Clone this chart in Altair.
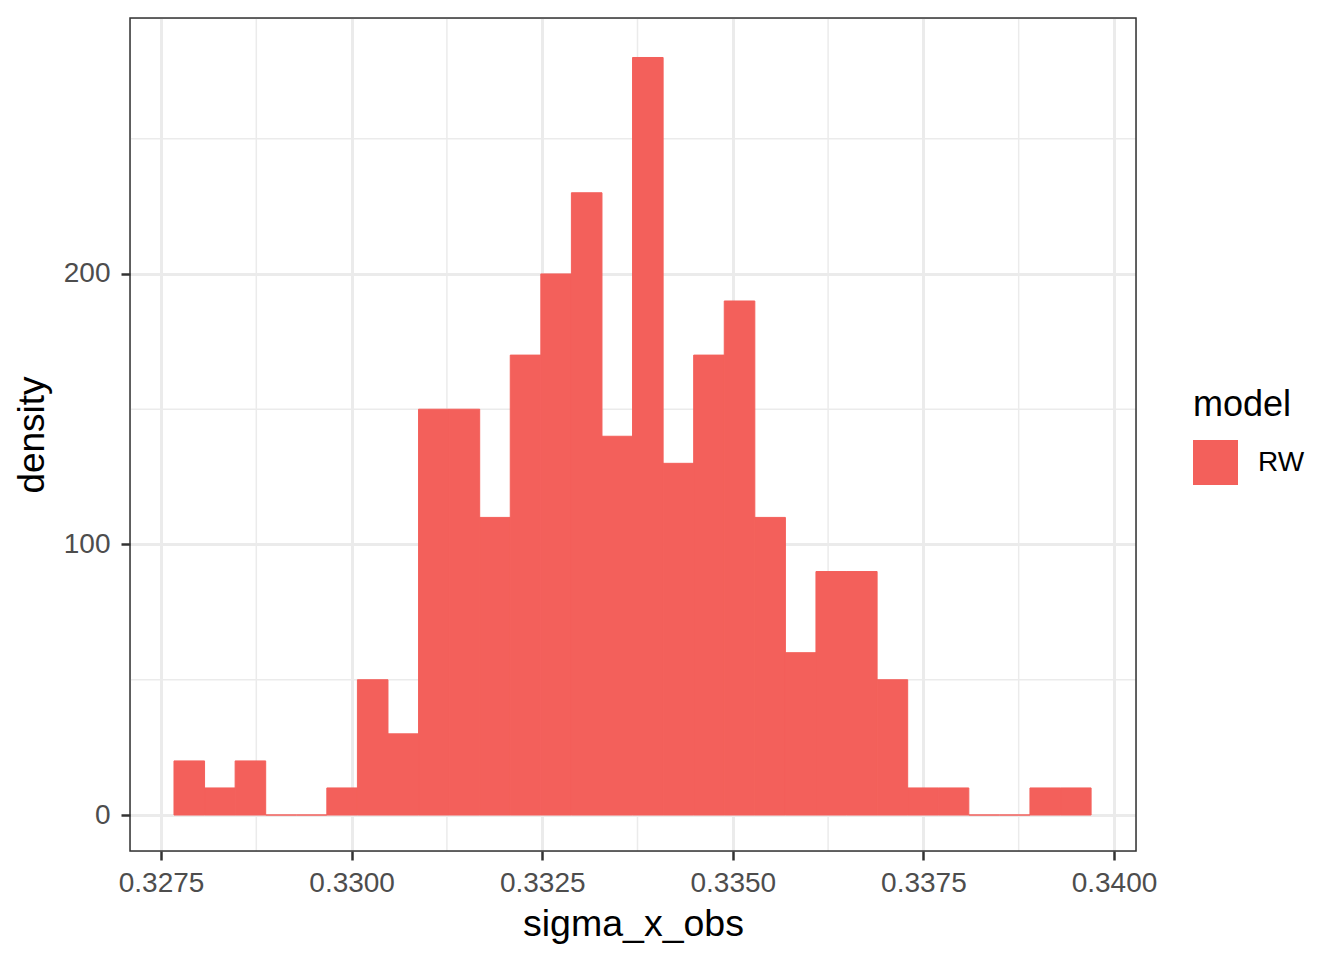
import altair as alt
import pandas as pd

# Histogram values
density = [20, 10, 20, 0, 0, 10, 50, 30, 150, 150, 110, 170, 200, 230, 140,
           280, 130, 170, 190, 110, 60, 90, 90, 50, 10, 10, 0, 0, 10, 10]
bin_start = 0.32767
bin_width = 0.000401
model = ["RW"] * len(density)

x_ticks = [0.3275, 0.3300, 0.3325, 0.3350, 0.3375, 0.3400]
x_minor = [0.32875, 0.33125, 0.33375, 0.33625, 0.33875]
y_ticks = [0, 100, 200]
y_minor = [50, 150, 250]

x_domain = [0.327093, 0.340289]
y_domain = [-13.3, 294.6]

lo = [bin_start + i * bin_width for i in range(len(density))]
df = pd.DataFrame({
    "lo": lo,
    "hi": [v + bin_width for v in lo],
    "density": density,
    "model": model,
})

FONT = "Liberation Sans"
xs = alt.Scale(domain=x_domain, nice=False, zero=False)
ys = alt.Scale(domain=y_domain, nice=False, zero=False)

minor_x = alt.Chart(pd.DataFrame({"v": x_minor})).mark_rule(
    color="#EBEBEB", strokeWidth=1.5
).encode(x=alt.X("v:Q", scale=xs))
minor_y = alt.Chart(pd.DataFrame({"v": y_minor})).mark_rule(
    color="#EBEBEB", strokeWidth=1.5
).encode(y=alt.Y("v:Q", scale=ys))

bars = alt.Chart(df).mark_rect(strokeWidth=1, strokeOpacity=1).encode(
    x=alt.X(
        "lo:Q", scale=xs,
        axis=alt.Axis(
            values=x_ticks, format=".4f", title="sigma_x_obs",
            grid=True, gridColor="#EBEBEB", gridWidth=3,
            domain=False, tickColor="#333333", tickWidth=2.5, tickSize=9,
            labelColor="#4D4D4D", labelFontSize=28, labelFont=FONT,
            labelPadding=9, titleFont=FONT, titleFontSize=37.5,
            titleFontWeight="normal", titleColor="black", titlePadding=8,
        ),
    ),
    x2="hi:Q",
    y=alt.Y(
        "density:Q", scale=ys,
        axis=alt.Axis(
            values=y_ticks, title="density",
            grid=True, gridColor="#EBEBEB", gridWidth=3,
            domain=False, tickColor="#333333", tickWidth=2.5, tickSize=9,
            labelColor="#4D4D4D", labelFontSize=28, labelFont=FONT,
            labelPadding=11, titleFont=FONT, titleFontSize=37,
            titleFontWeight="normal", titleColor="black", titlePadding=12,
        ),
    ),
    y2=alt.datum(0),
    color=alt.Color(
        "model:N",
        scale=alt.Scale(domain=["RW"], range=["#F3605B"]),
        legend=alt.Legend(
            title="model", orient="none", legendX=1063, legendY=370,
            titleFont=FONT, titleFontSize=36, titleFontWeight="normal",
            titleColor="black", titlePadding=16,
            labelFont=FONT, labelFontSize=28, labelColor="black",
            labelOffset=20, symbolType="square", symbolSize=2025,
            symbolStrokeWidth=0, symbolOpacity=1,
        ),
    ),
    stroke=alt.Stroke("model:N", scale=alt.Scale(domain=["RW"], range=["#F3605B"]), legend=None),
)

border = alt.Chart(pd.DataFrame({"k": [0]})).mark_rect(
    fill=None, stroke="#333333", strokeWidth=1.5
).encode(
    x=alt.value(0), x2=alt.value(1006), y=alt.value(0), y2=alt.value(833)
)

chart = alt.layer(minor_x, minor_y, bars, border).properties(
    width=1006, height=833,
    padding={"left": 122, "top": 10, "right": 200, "bottom": 100},
    autosize=alt.AutoSizeParams(type="none"),
).configure_view(
    stroke=None
).configure(background="white")

chart.save("out.html", embed_options={"renderer": "svg", "actions": False})
